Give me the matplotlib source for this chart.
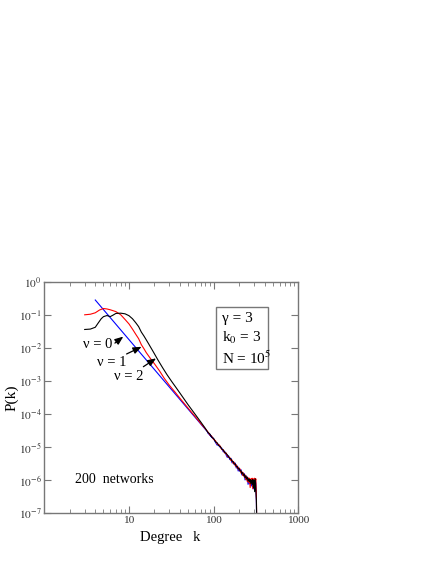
import matplotlib
matplotlib.use('Agg')
import matplotlib.pyplot as plt
from matplotlib.ticker import FixedLocator, NullFormatter, NullLocator

plt.rcParams['font.family'] = ['Liberation Serif', 'DejaVu Serif']
plt.rcParams['mathtext.fontset'] = 'stix'

# nu = 0 : straight power law
k_blue_head = [4, 100]
p_blue_head = [0.28, 1.75e-5]

# nu = 1
k_red_head = [3, 3.5, 4, 4.5, 5, 5.5, 6, 7, 8, 9, 10, 11, 12, 13, 14, 15, 16, 18, 20,
              23, 26, 30, 35, 40, 50, 60, 70]
p_red_head = [0.100, 0.104, 0.115, 0.140, 0.155, 0.150, 0.142, 0.125, 0.100, 0.072, 0.053,
              0.037, 0.026, 0.019, 0.0125, 0.0095, 0.0072, 0.0047, 0.0033,
              0.0020, 0.00122, 0.00074, 0.00046, 0.00030, 0.000150, 8.6e-5, 5.3e-5]

# nu = 2
k_black_head = [3, 3.5, 4, 4.3, 4.7, 5, 5.5, 6, 6.5, 7, 8, 9, 10, 11, 12, 13, 14, 15, 16,
                17, 18, 19, 20, 22, 25, 28, 32, 36, 40, 50, 60, 70]
p_black_head = [0.036, 0.037, 0.042, 0.055, 0.076, 0.088, 0.095, 0.088, 0.098, 0.110, 0.112,
                0.107, 0.094, 0.076, 0.058, 0.044, 0.030, 0.023, 0.0175,
                0.0135, 0.0105, 0.0083, 0.0066, 0.0043, 0.0025, 0.00158, 0.00096, 0.00063,
                0.00043, 0.000190, 0.000101, 5.9e-5]

# noisy tail, shared degrees
tail_k = [80, 85, 90, 95, 100, 105, 110, 115, 120, 125, 130, 135, 140, 145, 150, 155, 160,
          165, 170, 175, 180, 185, 190, 195, 200, 205, 210, 215, 220, 225, 230, 235, 240,
          245, 250, 255, 260, 265, 270, 275, 280, 285, 290, 295, 300, 305, 310, 315, 320, 325]

tail_blue = [3.42e-5, 2.76e-5, 2.45e-5, 1.96e-5, 1.80e-5, 1.40e-5, 1.15e-5, 1.17e-5, 9.6e-6,
             9.3e-6, 7.2e-6, 7.5e-6, 5.9e-6, 4.9e-6, 5.5e-6, 4.2e-6, 4.6e-6, 3.35e-6, 3.7e-6,
             2.95e-6, 3.3e-6, 2.35e-6, 2.7e-6, 1.9e-6, 2.35e-6, 1.83e-6, 2.1e-6, 1.45e-6,
             1.72e-6, 1.35e-6, 1.58e-6, 1.02e-6, 1.38e-6, 1.02e-6, 1.25e-6, 7.5e-7, 1.1e-6,
             7.8e-7, 1.05e-6, 6.8e-7, 9.5e-7, 6.5e-7, 1.0e-6, 5.5e-7, 1.05e-6, 6.2e-7, 1.05e-6,
             8.0e-7, 2.0e-7, 1.0e-8]

tail_red = [3.55e-5, 2.95e-5, 2.35e-5, 2.12e-5, 1.70e-5, 1.58e-5, 1.25e-5, 1.20e-5, 1.06e-5,
            8.4e-6, 8.3e-6, 6.6e-6, 6.7e-6, 5.4e-6, 5.0e-6, 4.9e-6, 3.9e-6, 4.1e-6, 3.2e-6,
            3.5e-6, 2.7e-6, 2.95e-6, 2.3e-6, 2.5e-6, 2.0e-6, 2.2e-6, 1.65e-6, 1.85e-6, 1.4e-6,
            1.65e-6, 1.25e-6, 1.45e-6, 1.05e-6, 1.3e-6, 9.0e-7, 1.2e-6, 8.5e-7, 1.15e-6,
            6.0e-7, 1.1e-6, 8.0e-7, 1.15e-6, 5.5e-7, 1.1e-6, 7.5e-7, 1.15e-6, 9.0e-7, 1.1e-6,
            3.0e-7, 1.0e-8]

tail_black = [3.65e-5, 2.85e-5, 2.5e-5, 2.0e-5, 1.82e-5, 1.45e-5, 1.36e-5, 1.1e-5, 1.04e-5,
              8.7e-6, 8.2e-6, 6.9e-6, 6.5e-6, 5.9e-6, 5.1e-6, 4.6e-6, 4.4e-6, 3.75e-6, 3.65e-6,
              3.1e-6, 3.1e-6, 2.6e-6, 2.6e-6, 2.2e-6, 2.25e-6, 1.9e-6, 1.95e-6, 1.6e-6, 1.7e-6,
              1.4e-6, 1.5e-6, 1.2e-6, 1.35e-6, 1.1e-6, 1.2e-6, 9.5e-7, 1.1e-6, 9.0e-7, 1.05e-6,
              8.0e-7, 1.0e-6, 7.5e-7, 1.05e-6, 6.0e-7, 1.0e-6, 4.5e-7, 1.1e-6, 5.0e-7, 2.5e-7,
              1.0e-8]

y_ticks = [1e0, 1e-1, 1e-2, 1e-3, 1e-4, 1e-5, 1e-6, 1e-7]
y_labels = [r'$10^{0}$', r'$10^{-1}$', r'$10^{-2}$', r'$10^{-3}$', r'$10^{-4}$',
            r'$10^{-5}$', r'$10^{-6}$', r'$10^{-7}$']
x_ticks = [10, 100, 1000]
x_labels = ['10', '100', '1000']


fig = plt.figure(figsize=(4.36, 5.64), dpi=100)
ax = fig.add_axes([0.1016, 0.0899, 0.5826, 0.4106])
ax.set_xscale('log')
ax.set_yscale('log')

ax.plot(k_blue_head + tail_k[1:], p_blue_head + tail_blue[1:], color='blue', lw=0.8)
ax.plot(k_red_head + tail_k, p_red_head + tail_red, color='red', lw=0.8)
ax.plot(k_black_head + tail_k, p_black_head + tail_black, color='black', lw=0.8)

ax.set_xlim(1, 1000)
ax.set_ylim(1e-7, 1)

ax.xaxis.set_major_locator(FixedLocator(x_ticks))
ax.set_xticklabels(x_labels)
ax.xaxis.set_minor_locator(FixedLocator([m * d for d in (1, 10, 100) for m in range(2, 10)]))
ax.xaxis.set_minor_formatter(NullFormatter())
ax.yaxis.set_major_locator(FixedLocator(y_ticks))
ax.set_yticklabels(y_labels)
ax.yaxis.set_minor_locator(NullLocator())

ax.tick_params(which='both', direction='in', top=True, right=True, color='#777777',
               labelsize=8.2, labelcolor='#333333')
ax.tick_params(which='major', length=5, width=0.8, pad=2)
ax.tick_params(which='minor', length=3, width=0.6)
for s in ax.spines.values():
    s.set_color('#777777')
    s.set_linewidth(1.0)

ax.set_xlabel('Degree   k', fontsize=10.5)
ax.set_ylabel('P(k)', fontsize=11)
ax.xaxis.set_label_coords(0.495, -0.075)
ax.yaxis.set_label_coords(-0.102, 0.5)

# parameter box
ax.add_patch(plt.Rectangle((0.675, 0.623), 0.207, 0.269, transform=ax.transAxes,
                           fill=False, edgecolor='#777777', lw=1.0))
ax.text(0.698, 0.843, 'γ = 3', transform=ax.transAxes, fontsize=11, va='center')
ax.text(0.698, 0.757, 'k$_0$ = 3', transform=ax.transAxes, fontsize=11, va='center')
ax.text(0.698, 0.670, 'N = 10$^5$', transform=ax.transAxes, fontsize=11, va='center')

ax.text(0.276, 0.144, '200  networks', transform=ax.transAxes, fontsize=10,
        ha='center', va='center')

arrow = dict(arrowstyle='-|>,head_length=0.5,head_width=0.2', color='black', lw=0.9,
             shrinkA=0, shrinkB=0)
ax.text(0.209, 0.727, 'ν = 0', transform=ax.transAxes, fontsize=10.5, ha='center', va='center')
ax.annotate('', xy=(0.311, 0.763), xytext=(0.278, 0.735), xycoords='axes fraction',
            textcoords='axes fraction', arrowprops=arrow)
ax.text(0.265, 0.651, 'ν = 1', transform=ax.transAxes, fontsize=10.5, ha='center', va='center')
ax.annotate('', xy=(0.383, 0.719), xytext=(0.324, 0.688), xycoords='axes fraction',
            textcoords='axes fraction', arrowprops=arrow)
ax.text(0.333, 0.589, 'ν = 2', transform=ax.transAxes, fontsize=10.5, ha='center', va='center')
ax.annotate('', xy=(0.440, 0.669), xytext=(0.390, 0.633), xycoords='axes fraction',
            textcoords='axes fraction', arrowprops=arrow)

fig.savefig('out.png', dpi=100)
